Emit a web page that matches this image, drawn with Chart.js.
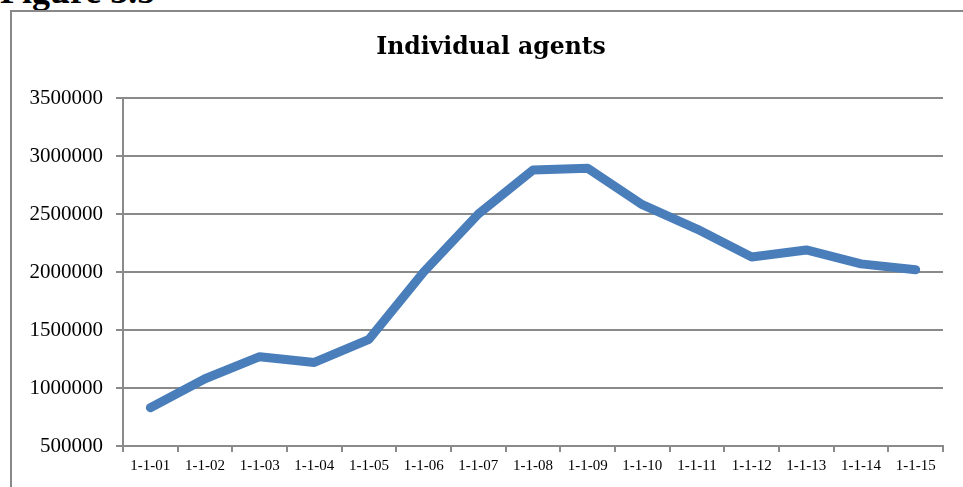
<!DOCTYPE html>
<html>
<head>
<meta charset="utf-8">
<script src="https://cdn.jsdelivr.net/npm/chart.js@4"></script>
<style>
  html, body { margin: 0; padding: 0; background: #fff; overflow: hidden; }
  #wrap { position: relative; width: 963px; height: 487px; }
  #fig { position: absolute; left: 0; top: -27px; font: bold 36px "Liberation Serif", serif; line-height: 1; color: #000; white-space: nowrap; }
  #frame { position: absolute; left: 10px; top: 10px; width: 980px; height: 500px; border: 2px solid #888; box-sizing: border-box; }
  #c { position: absolute; left: 0; top: 0; }
</style>
</head>
<body>
<div id="wrap">
  <div id="fig">Figure 3.5</div>
  <div id="frame"></div>
  <canvas id="c" width="963" height="487"></canvas>
</div>
<script>
const labels = ["1-1-01", "1-1-02", "1-1-03", "1-1-04", "1-1-05", "1-1-06", "1-1-07", "1-1-08",
  "1-1-09", "1-1-10", "1-1-11", "1-1-12", "1-1-13", "1-1-14", "1-1-15"];
const agents = [830000, 1080000, 1270000, 1220000, 1420000, 2000000, 2500000, 2880000,
  2895000, 2580000, 2370000, 2130000, 2190000, 2070000, 2020000];
const yMin = 500000;
const yMax = 3500000;
const yStep = 500000;

const gridColor = "#8a8a8a";

new Chart(document.getElementById("c").getContext("2d"), {
  type: "line",
  data: {
    labels: labels,
    datasets: [{
      label: "Individual agents",
      data: agents,
      borderColor: "#4a7ebb",
      borderWidth: 9,
      borderCapStyle: "round",
      borderJoinStyle: "round",
      pointRadius: 0,
      tension: 0,
      fill: false
    }]
  },
  options: {
    responsive: false,
    animation: false,
    layout: { padding: { left: 24, right: 5, top: 0, bottom: 0 } },
    plugins: {
      legend: { display: false },
      tooltip: { enabled: false },
      title: {
        display: true,
        text: "Individual agents",
        color: "#000",
        font: { family: "DejaVu Serif", size: 23.5, weight: "bold", lineHeight: 1.2 },
        padding: { top: 34, bottom: 35.8 }
      }
    },
    scales: {
      x: {
        offset: true,
        grid: { offset: true, drawOnChartArea: false, drawTicks: true, tickLength: 6, color: gridColor, lineWidth: 2 },
        border: { color: gridColor, width: 2 },
        ticks: { color: "#000", font: { family: "Liberation Serif", size: 15 }, padding: 5, maxRotation: 0, autoSkip: false },
        afterFit: (s) => { s.height = 41; }
      },
      y: {
        min: yMin,
        max: yMax,
        ticks: { stepSize: yStep, color: "#000", font: { family: "Liberation Serif", size: 21 }, padding: 13,
          callback: (v) => String(v) },
        grid: { color: gridColor, lineWidth: 2, tickLength: 7 },
        border: { color: gridColor, width: 2 },
        afterFit: (s) => { s.width = 99; }
      },
      // empty right-hand box so the title centres on the frame, not the canvas
      pad: {
        type: "linear",
        position: "right",
        ticks: { display: false },
        grid: { display: false },
        border: { display: false },
        afterFit: (s) => { s.width = 15; }
      }
    }
  }
});
</script>
</body>
</html>
